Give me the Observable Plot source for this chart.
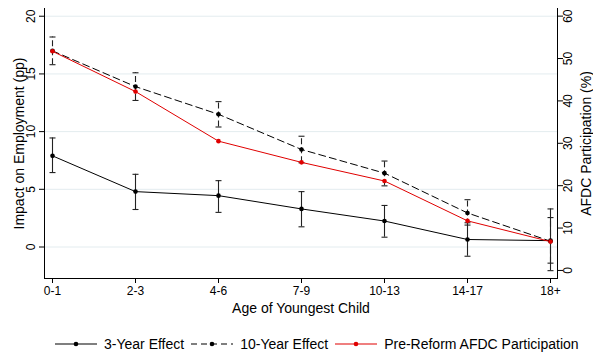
<!DOCTYPE html>
<html>
<head>
<meta charset="utf-8">
<script src="https://cdn.jsdelivr.net/npm/d3@7"></script>
<script src="https://cdn.jsdelivr.net/npm/@observablehq/plot@0.6"></script>
<style>
  html, body { margin: 0; padding: 0; background: #fff; }
  body { position: relative; width: 593px; height: 356px; overflow: hidden;
         font-family: "Liberation Sans", Arial, Helvetica, sans-serif; }
  #chart { position: absolute; left: 0; top: 0; }
  #legend { position: absolute; left: 55px; top: 336px; height: 16px; display: flex;
            align-items: center; font-size: 14px; color: #000; white-space: nowrap; }
  #legend .item { display: flex; align-items: center; margin-right: 7px; }
  #legend svg { margin-right: 7px; }
</style>
</head>
<body>
<div id="chart"></div>
<div id="legend"></div>
<script>
// ---- data ----
const categories = ["0-1", "2-3", "4-6", "7-9", "10-13", "14-17", "18+"];

// 3-Year Effect (pp) with 95% CI
const effect3   = [7.9, 4.8, 4.45, 3.3, 2.25, 0.65, 0.55];
const effect3Lo = [6.45, 3.25, 3.0, 1.75, 0.85, -0.8, -2.05];
const effect3Hi = [9.45, 6.3, 5.75, 4.8, 3.6, 2.1, 3.3];

// 10-Year Effect (pp) with 95% CI
const effect10   = [17.0, 13.9, 11.5, 8.45, 6.4, 2.95, 0.5];
const effect10Lo = [15.8, 12.7, 10.4, 7.3, 5.3, 1.9, -1.4];
const effect10Hi = [18.2, 15.1, 12.6, 9.6, 7.45, 4.1, 2.55];

// Pre-Reform AFDC Participation (%), right axis
const afdc = [51.7, 42.2, 30.5, 25.5, 21.1, 11.7, 6.8];

const leftTicks = [0, 5, 10, 15, 20];
const rightTicks = [0, 10, 20, 30, 40, 50, 60];

const leftDomain = [-2.73, 20.67];
const rightDomain = [-1.9, 61.8];

// ---- build ----
const toLeft = d3.scaleLinear().domain(rightDomain).range(leftDomain);

const rows3 = categories.map((c, i) => ({cat: c, v: effect3[i], lo: effect3Lo[i], hi: effect3Hi[i]}));
const rows10 = categories.map((c, i) => ({cat: c, v: effect10[i], lo: effect10Lo[i], hi: effect10Hi[i]}));
const rowsA = categories.map((c, i) => ({cat: c, v: toLeft(afdc[i])}));

const capSymbol = { draw(ctx) { ctx.moveTo(-3, 0); ctx.lineTo(3, 0); } };
const RED = "#e00000";
const BAR = "#222";

const chart = Plot.plot({
  width: 593,
  height: 330,
  marginLeft: 44,
  marginRight: 36,
  marginTop: 8,
  marginBottom: 52,
  style: { fontFamily: '"Liberation Sans", Arial, Helvetica, sans-serif', fontSize: "12px", background: "#fff", color: "#000" },
  x: { type: "point", domain: categories, padding: 0.085, label: null },
  y: { domain: leftDomain, label: null },
  marks: [
    Plot.gridY(leftTicks, { stroke: "#e3ecef", strokeOpacity: 1, strokeWidth: 1 }),
    Plot.frame({ anchor: "left", stroke: "#000" }),
    Plot.frame({ anchor: "right", stroke: "#000" }),
    Plot.frame({ anchor: "bottom", stroke: "#000" }),
    // left axis
    Plot.axisY(leftTicks, { anchor: "left", tickSize: 5, text: null, label: null, stroke: "#000" }),
    Plot.text(leftTicks, { y: d => d, text: d => String(d), frameAnchor: "left", textAnchor: "middle", dx: -13, rotate: -90, fontSize: 12 }),
    Plot.text(["Impact on Employment (pp)"], { frameAnchor: "left", textAnchor: "middle", dx: -25, rotate: -90, fontSize: 14 }),
    // right axis
    Plot.axisY(rightTicks.map(toLeft), { anchor: "right", tickSize: 5, text: null, label: null, stroke: "#000" }),
    Plot.text(rightTicks, { y: d => toLeft(d), text: d => String(d), frameAnchor: "right", textAnchor: "middle", dx: 11, rotate: -90, fontSize: 12 }),
    Plot.text(["AFDC Participation (%)"], { frameAnchor: "right", textAnchor: "middle", dx: 29, rotate: -90, fontSize: 14 }),
    // x axis
    Plot.axisX({ tickSize: 5, tickPadding: 3, fontSize: 12, label: null, stroke: "#000" }),
    Plot.text(["Age of Youngest Child"], { frameAnchor: "bottom", textAnchor: "middle", dy: 34, fontSize: 14 }),
    // error bars 3-year
    Plot.ruleX(rows3, { x: "cat", y1: "lo", y2: "hi", stroke: BAR, strokeWidth: 1.1 }),
    Plot.dot(rows3, { x: "cat", y: "lo", symbol: capSymbol, stroke: BAR, strokeWidth: 1.1, fill: "none" }),
    Plot.dot(rows3, { x: "cat", y: "hi", symbol: capSymbol, stroke: BAR, strokeWidth: 1.1, fill: "none" }),
    // error bars 10-year (dashed)
    Plot.ruleX(rows10, { x: "cat", y1: "lo", y2: "hi", stroke: BAR, strokeWidth: 1.1, strokeDasharray: "6,3" }),
    Plot.dot(rows10, { x: "cat", y: "lo", symbol: capSymbol, stroke: BAR, strokeWidth: 1.1, fill: "none" }),
    Plot.dot(rows10, { x: "cat", y: "hi", symbol: capSymbol, stroke: BAR, strokeWidth: 1.1, fill: "none" }),
    // lines
    Plot.line(rows3, { x: "cat", y: "v", stroke: "#000", strokeWidth: 1 }),
    Plot.line(rows10, { x: "cat", y: "v", stroke: "#000", strokeWidth: 1, strokeDasharray: "7,4" }),
    Plot.line(rowsA, { x: "cat", y: "v", stroke: RED, strokeWidth: 1 }),
    // markers
    Plot.dot(rows3, { x: "cat", y: "v", r: 2.3, fill: "#000", stroke: "none" }),
    Plot.dot(rows10, { x: "cat", y: "v", r: 2.3, fill: "#000", stroke: "none" }),
    Plot.dot(rowsA, { x: "cat", y: "v", r: 2.3, fill: RED, stroke: "none" })
  ]
});
document.getElementById("chart").appendChild(chart);

// legend
const legendItems = [
  { label: "3-Year Effect", color: "#000", dash: null },
  { label: "10-Year Effect", color: "#000", dash: "6,4" },
  { label: "Pre-Reform AFDC Participation", color: RED, dash: null }
];
const legend = d3.select("#legend");
for (const it of legendItems) {
  const item = legend.append("div").attr("class", "item");
  const s = item.append("svg").attr("width", 42).attr("height", 10);
  s.append("line").attr("x1", 0).attr("x2", 42).attr("y1", 5).attr("y2", 5)
    .attr("stroke", it.color).attr("stroke-width", 1.2)
    .attr("stroke-dasharray", it.dash);
  s.append("circle").attr("cx", 21).attr("cy", 5).attr("r", 2.3).attr("fill", it.color);
  item.append("span").text(it.label);
}
</script>
</body>
</html>
